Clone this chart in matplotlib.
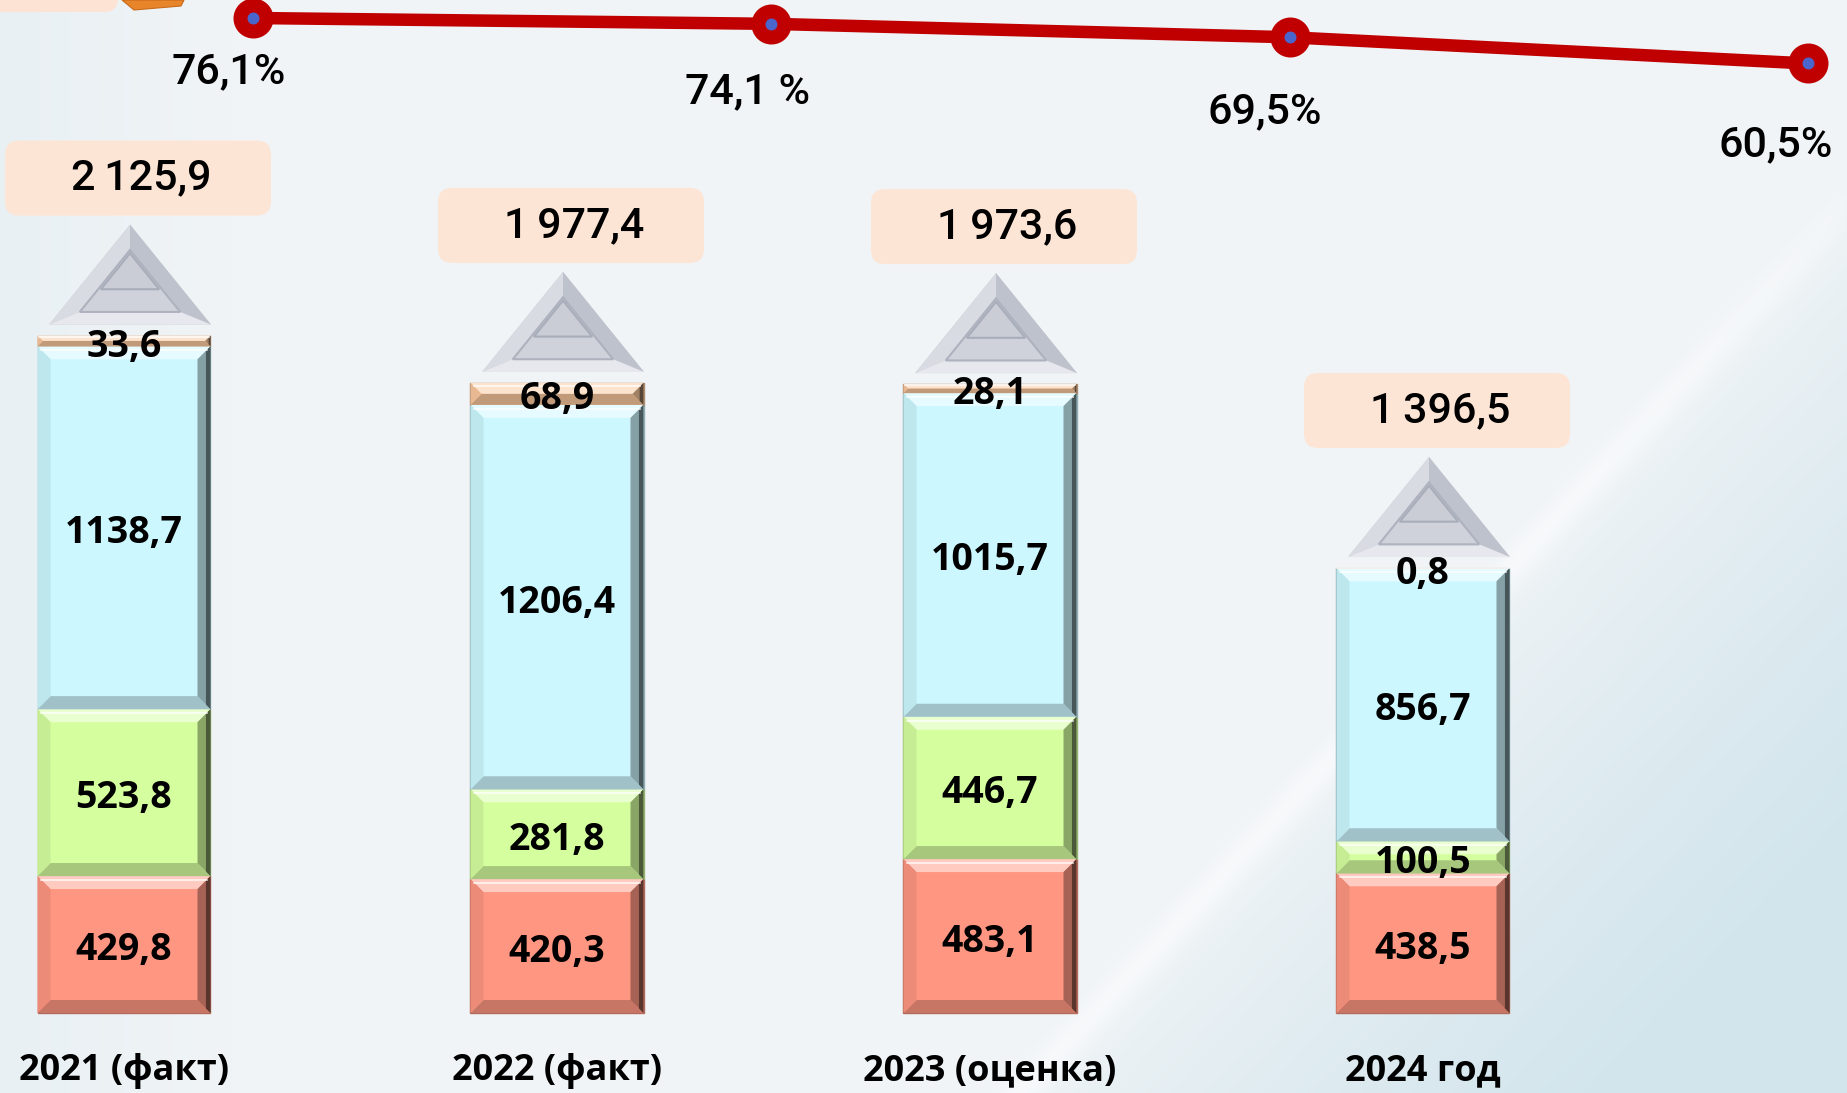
import numpy as np
import matplotlib.pyplot as plt
from matplotlib.patches import Polygon, FancyBboxPatch
from matplotlib import colors as mcolors

# --- data ---
years = ['2021 (факт)', '2022 (факт)', '2023 (оценка)', '2024 год']
seg_red = [429.8, 420.3, 483.1, 438.5]
seg_green = [523.8, 281.8, 446.7, 100.5]
seg_cyan = [1138.7, 1206.4, 1015.7, 856.7]
seg_orange = [33.6, 68.9, 28.1, 0.8]
share = [76.1, 74.1, 69.5, 60.5]
share_labels = ['76,1%', '74,1 %', '69,5%', '60,5%']

segments = [seg_red, seg_green, seg_cyan, seg_orange]
seg_colors = ['#FF9682', '#D5FF9F', '#CCF7FF', '#F8C69C']

COND = ['Roboto', 'DejaVu Sans']
BOLD = ['Open Sans', 'DejaVu Sans']

W, H = 1847, 1093
fig = plt.figure(figsize=(W / 100, H / 100), dpi=100)


def mix(c, other, t):
    c = np.array(mcolors.to_rgb(c))
    o = np.array(mcolors.to_rgb(other))
    return tuple(c * (1 - t) + o * t)


# --- background (pixel coords) ---
ax_bg = fig.add_axes([0, 0, 1, 1])
yy, xx = np.mgrid[0:H, 0:W].astype(float)
base = np.array([0.945, 0.958, 0.966])
blue = np.array([0.815, 0.893, 0.925])
d = ((xx - 1847) * 800 + (yy - 200) * 747) / 1094.5
s = np.clip(d / 420, 0, 1) ** 0.7 * 0.9
left = np.clip(1 - xx / 250, 0, 1) * 0.25
s = np.maximum(s, left)
img = base * (1 - s[..., None]) + blue * s[..., None]
streak = np.exp(-((d - 6) / 16) ** 2) * 0.6 * np.clip((W - xx) / 300, 0, 1) ** 0.3
img = img * (1 - streak[..., None]) + np.array([0.985, 0.99, 0.995]) * streak[..., None]
ax_bg.imshow(img, extent=(0, W, H, 0), aspect='auto', interpolation='bilinear')
ax_bg.set_xlim(0, W)
ax_bg.set_ylim(H, 0)
ax_bg.axis('off')
# cut-off legend pieces at top-left
ax_bg.add_patch(FancyBboxPatch((-40, -40), 158, 52, boxstyle='round,pad=0,rounding_size=14',
                               fc='#FCE3D3', ec='none'))
ax_bg.add_patch(Polygon([(122, 0), (184, 0), (181, 6), (134, 10)], closed=True,
                        fc='#E8852A', ec='#C86A1A', lw=0.8))

# --- bars axes ---
ax = fig.add_axes([0, 0, 1, 1])
ax.patch.set_alpha(0)
k = 677.4 / 2125.9          # px per unit
step = 433.0                # px between bars
ax.set_ylim(-80 / k, (H - 80) / k)
ax.set_xlim(-124 / step, (W - 124) / step)
ax.axis('off')

x = np.arange(len(years))
bw = 173 / step
bx_full = 13 / step
by_full = 13 / k

bottom = np.zeros(len(years))
for vals, col in zip(segments, seg_colors):
    vals = np.array(vals)
    ax.bar(x, vals, bottom=bottom, width=bw, color=col,
           edgecolor=mix(col, 'black', 0.3), linewidth=1.0, zorder=2)
    for xi, b, h in zip(x, bottom, vals):
        x0, x1 = xi - bw / 2, xi + bw / 2
        y0, y1 = b, b + h
        byy = min(by_full, h * 0.5)
        bxx = bx_full * byy / by_full
        faces = [
            ([(x0, y1), (x1, y1), (x1 - bxx, y1 - byy), (x0 + bxx, y1 - byy)], mix(col, 'white', 0.5)),
            ([(x0, y0), (x1, y0), (x1 - bxx, y0 + byy), (x0 + bxx, y0 + byy)], mix(col, 'black', 0.22)),
            ([(x0, y0), (x0, y1), (x0 + bxx, y1 - byy), (x0 + bxx, y0 + byy)], mix(col, 'black', 0.07)),
            ([(x1, y0), (x1, y1), (x1 - bxx, y1 - byy), (x1 - bxx, y0 + byy)], mix(col, 'black', 0.35)),
        ]
        for pts, fc in faces:
            ax.add_patch(Polygon(pts, closed=True, fc=fc, ec='none', zorder=3))
        # darker strip on the right edge
        ax.add_patch(Polygon([(x1 - bxx * 0.35, y0 + byy * 0.35), (x1, y0), (x1, y1),
                              (x1 - bxx * 0.35, y1 - byy * 0.35)], closed=True,
                             fc=mix(col, 'black', 0.65), ec='none', zorder=3))
        # thin highlight line under the top edge
        ax.plot([x0 + bxx * 0.3, x1 - bxx * 0.3], [y1 - byy * 0.3] * 2,
                color='white', lw=1.2, alpha=0.8, zorder=3)
        ax.annotate(f'{h:.1f}'.replace('.', ','), (xi, b + h / 2), xytext=(0, -4),
                    textcoords='offset points', ha='center', va='center',
                    fontsize=27, fontweight='bold', family=BOLD, zorder=5)
    bottom = bottom + vals

totals = bottom
tri_gap = 11 / k
tri_h = 100 / k
tri_hw = 81 / step
box_w = 266 / step
box_h = 75 / k
for xi, tot in zip(x, totals):
    cx = xi + 6 / step
    yb = tot + tri_gap
    apex = (cx, yb + tri_h)
    bl, br = (cx - tri_hw, yb), (cx + tri_hw, yb)
    cy = yb + tri_h / 3

    def scaled(f, oy=0.0):
        return [(cx + (px - cx) * f, cy + oy + (py - cy) * f) for px, py in (apex, bl, br)]
    mid = scaled(0.62)
    ax.add_patch(Polygon([apex, bl, br], closed=True, fc='#CBCED7', ec='none', zorder=2))
    ax.add_patch(Polygon([apex, bl, mid[1], mid[0]], closed=True, fc='#D9DBE2', ec='none', zorder=2))
    ax.add_patch(Polygon([apex, br, mid[2], mid[0]], closed=True, fc='#BEC2CC', ec='none', zorder=2))
    ax.add_patch(Polygon([bl, br, mid[2], mid[1]], closed=True, fc='#E6E8ED', ec='none', zorder=2))
    ax.add_patch(Polygon(mid, closed=True, fc='#CFD2DA', ec='#AEB2BE', lw=1.5, zorder=2))
    ax.add_patch(Polygon(scaled(0.36, oy=14 / k), closed=True, fc='#CACDD6', ec='#A8ADBA',
                         lw=1.5, zorder=2))
    # total box
    by0 = apex[1] + 9 / k
    bx0 = xi + 14 / step - box_w / 2
    ax.add_patch(FancyBboxPatch((bx0, by0), box_w, box_h,
                                boxstyle='round,pad=0,rounding_size=%f' % (14 / step),
                                mutation_aspect=(1 / k) / (1 / step),
                                fc='#FDE5D6', ec='none', zorder=2))
    ax.text(xi + 17 / step, by0 + box_h / 2,
            f'{tot:,.1f}'.replace(',', '\u2009').replace('.', ','),
            ha='center', va='center', fontsize=31, fontweight='medium', family=COND, zorder=5)

for xi, lab in zip(x, years):
    ax.text(xi, (H - 1071) / H, lab, transform=ax.get_xaxis_transform(),
            ha='center', va='center', fontsize=26, fontweight='bold', family=BOLD)

# --- share line ---
ax2 = fig.add_axes([0, 0, 1, 1])
ax2.patch.set_alpha(0)
lstep = 518.3
p = 45.5 / 15.6
ax2.set_xlim(-253 / lstep, (W - 253) / lstep)
ax2.set_ylim(76.1 - (H - 18) / p, 76.1 + 18 / p)
ax2.axis('off')
ax2.plot(x, share, color='#C00000', lw=9, solid_capstyle='round', marker='o',
         markersize=18.7, markerfacecolor='#4A66CC', markeredgecolor='#C00000',
         markeredgewidth=10.1, zorder=3)
pct_off = [(-24, 54), (-24, 68), (-25, 74), (-32, 81)]
for xi, v, lab, (dx, dy) in zip(x, share, share_labels, pct_off):
    ax2.annotate(lab, (xi, v), xytext=(dx * 0.72, -dy * 0.72), textcoords='offset points',
                 ha='center', va='center', fontsize=31, fontweight='medium', family=COND)

fig.savefig('out.png', dpi=100)
